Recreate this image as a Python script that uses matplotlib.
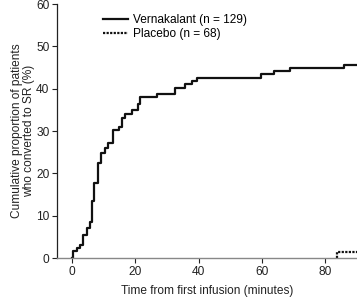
import matplotlib
matplotlib.use("Agg")
import matplotlib.pyplot as plt

plt.rcParams['font.family'] = ['Liberation Sans', 'DejaVu Sans']

# Vernakalant cumulative conversion (%), step curve
vern_t = [0, 0.4, 1.5, 2.5, 3.6, 4.6, 5.7, 6.4, 7.0, 8.3, 9.3, 10.4, 11.5, 12.8,
          14.8, 15.8, 16.6, 19.0, 20.7, 21.5, 26.7, 32.5, 35.6, 37.8, 39.5,
          59.6, 63.7, 68.8, 85.8, 90]
vern_p = [0, 1.6, 2.3, 3.1, 5.4, 7.0, 8.5, 13.5, 17.8, 22.5, 24.8, 26.0, 27.1, 30.2,
          31.0, 33.2, 34.1, 34.9, 36.4, 38.0, 38.8, 40.3, 41.1, 41.9, 42.6,
          43.4, 44.2, 45.0, 45.7, 45.7]

# Placebo
plac_t = [83.8, 83.8, 90]
plac_p = [0, 1.47, 1.47]

xticks = [0, 20, 40, 60, 80]
yticks = [0, 10, 20, 30, 40, 50, 60]

FS = 8.6

fig = plt.figure(figsize=(3.57, 2.97), dpi=100)
ax = fig.add_axes([0.16, 0.131, 0.84, 0.855])

ax.step(vern_t, vern_p, where='post', color='#111111', lw=1.6,
        label='Vernakalant (n = 129)')
ax.plot(plac_t, plac_p, color='#111111', lw=1.6, linestyle=(0, (1, 0.6)),
        label='Placebo (n = 68)')

ax.set_xlim(-4.7, 90)
ax.set_ylim(0, 60)
ax.set_xticks(xticks)
ax.set_yticks(yticks)

for s in ['top', 'right']:
    ax.spines[s].set_visible(False)
ax.spines['left'].set_bounds(0, 60)
ax.spines['left'].set_color('#222222')
ax.spines['left'].set_linewidth(0.9)
ax.spines['bottom'].set_color('#888888')
ax.spines['bottom'].set_linewidth(1.0)

ax.tick_params(axis='both', labelsize=FS, colors='#222222', length=3.5,
               width=0.8, pad=2)

ax.set_xlabel('Time from first infusion (minutes)', fontsize=FS, color='#222222',
              labelpad=5)
ax.set_ylabel('Cumulative proportion of patients\nwho converted to SR (%)',
              fontsize=FS, color='#222222', labelpad=1, linespacing=1.0)

ax.legend(loc='upper left', bbox_to_anchor=(0.153, 0.96), frameon=False,
          fontsize=FS, handlelength=2.1, handletextpad=0.45, labelspacing=0.15,
          borderaxespad=0, borderpad=0)

fig.savefig('out.png', dpi=100)
